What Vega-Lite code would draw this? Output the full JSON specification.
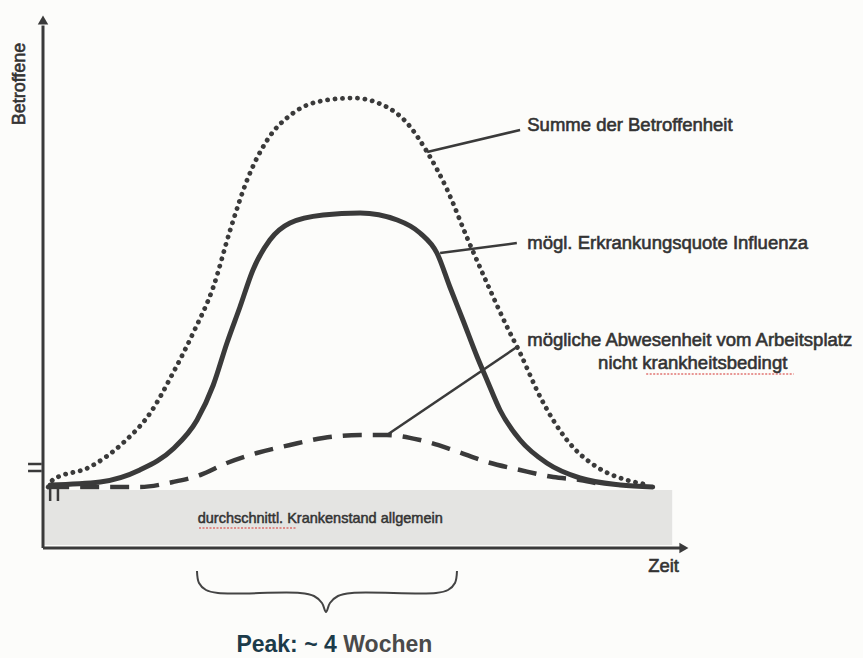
{
  "$schema": "https://vega.github.io/schema/vega-lite/v6.json",
  "width": 863,
  "height": 658,
  "autosize": {"type": "none"},
  "padding": 0,
  "background": "#fcfcfa",
  "config": {"view": {"stroke": null}, "text": {"font": "Liberation Sans"}},
  "datasets": {
    "curves": [
      {"series": "Summe", "x": 0.08, "y": 12.2},
      {"series": "Summe", "x": 0.15, "y": 13.6},
      {"series": "Summe", "x": 0.72, "y": 16.2},
      {"series": "Summe", "x": 1.23, "y": 21.0},
      {"series": "Summe", "x": 1.65, "y": 27.0},
      {"series": "Summe", "x": 2.0, "y": 35.0},
      {"series": "Summe", "x": 2.31, "y": 43.0},
      {"series": "Summe", "x": 2.62, "y": 52.2},
      {"series": "Summe", "x": 2.88, "y": 63.6},
      {"series": "Summe", "x": 3.14, "y": 73.6},
      {"series": "Summe", "x": 3.45, "y": 81.6},
      {"series": "Summe", "x": 3.85, "y": 87.0},
      {"series": "Summe", "x": 4.37, "y": 89.6},
      {"series": "Summe", "x": 4.77, "y": 90.0},
      {"series": "Summe", "x": 5.29, "y": 88.2},
      {"series": "Summe", "x": 5.6, "y": 85.0},
      {"series": "Summe", "x": 5.91, "y": 79.2},
      {"series": "Summe", "x": 6.22, "y": 71.6},
      {"series": "Summe", "x": 6.52, "y": 62.2},
      {"series": "Summe", "x": 6.83, "y": 53.0},
      {"series": "Summe", "x": 7.14, "y": 44.2},
      {"series": "Summe", "x": 7.34, "y": 39.0},
      {"series": "Summe", "x": 7.65, "y": 30.2},
      {"series": "Summe", "x": 8.06, "y": 21.6},
      {"series": "Summe", "x": 8.52, "y": 16.2},
      {"series": "Summe", "x": 8.98, "y": 13.6},
      {"series": "Summe", "x": 9.34, "y": 12.6},
      {"series": "Influenza", "x": 0.11, "y": 12.6},
      {"series": "Influenza", "x": 0.88, "y": 13.2},
      {"series": "Influenza", "x": 1.49, "y": 15.6},
      {"series": "Influenza", "x": 2.0, "y": 19.8},
      {"series": "Influenza", "x": 2.37, "y": 25.6},
      {"series": "Influenza", "x": 2.62, "y": 32.6},
      {"series": "Influenza", "x": 2.83, "y": 41.0},
      {"series": "Influenza", "x": 3.03, "y": 48.2},
      {"series": "Influenza", "x": 3.23, "y": 55.6},
      {"series": "Influenza", "x": 3.49, "y": 61.6},
      {"series": "Influenza", "x": 3.8, "y": 65.0},
      {"series": "Influenza", "x": 4.31, "y": 66.6},
      {"series": "Influenza", "x": 4.88, "y": 67.0},
      {"series": "Influenza", "x": 5.45, "y": 65.6},
      {"series": "Influenza", "x": 5.8, "y": 63.0},
      {"series": "Influenza", "x": 6.06, "y": 59.0},
      {"series": "Influenza", "x": 6.26, "y": 52.2},
      {"series": "Influenza", "x": 6.46, "y": 45.6},
      {"series": "Influenza", "x": 6.68, "y": 38.2},
      {"series": "Influenza", "x": 6.83, "y": 33.6},
      {"series": "Influenza", "x": 7.03, "y": 27.6},
      {"series": "Influenza", "x": 7.34, "y": 21.6},
      {"series": "Influenza", "x": 7.75, "y": 17.0},
      {"series": "Influenza", "x": 8.26, "y": 14.0},
      {"series": "Influenza", "x": 8.88, "y": 12.6},
      {"series": "Influenza", "x": 9.38, "y": 12.2},
      {"series": "Abwesenheit", "x": 0.11, "y": 12.2},
      {"series": "Abwesenheit", "x": 1.49, "y": 12.2},
      {"series": "Abwesenheit", "x": 2.0, "y": 13.2},
      {"series": "Abwesenheit", "x": 2.42, "y": 14.6},
      {"series": "Abwesenheit", "x": 2.83, "y": 17.0},
      {"series": "Abwesenheit", "x": 3.29, "y": 19.0},
      {"series": "Abwesenheit", "x": 3.8, "y": 20.6},
      {"series": "Abwesenheit", "x": 4.31, "y": 22.0},
      {"series": "Abwesenheit", "x": 4.88, "y": 22.6},
      {"series": "Abwesenheit", "x": 5.29, "y": 22.6},
      {"series": "Abwesenheit", "x": 5.8, "y": 21.6},
      {"series": "Abwesenheit", "x": 6.31, "y": 19.6},
      {"series": "Abwesenheit", "x": 6.83, "y": 17.2},
      {"series": "Abwesenheit", "x": 7.34, "y": 15.6},
      {"series": "Abwesenheit", "x": 7.85, "y": 14.2},
      {"series": "Abwesenheit", "x": 8.26, "y": 13.6},
      {"series": "Abwesenheit", "x": 8.57, "y": 12.8}
    ],
    "leaders": [
      {"x": 5.91, "y": 79.2, "x2": 7.34, "y2": 83.6},
      {"x": 6.11, "y": 59.0, "x2": 7.29, "y2": 61.0},
      {"x": 5.29, "y": 22.6, "x2": 7.29, "y2": 40.2}
    ],
    "labels": [
      {"x": 7.45, "y": 84.6, "label": "Summe der Betroffenheit"},
      {"x": 7.45, "y": 61.0, "label": "mögl. Erkrankungsquote Influenza"},
      {"x": 7.45, "y": 41.6, "label": "mögliche Abwesenheit vom Arbeitsplatz"},
      {"x": 8.54, "y": 37.0, "label": "nicht krankheitsbedingt"},
      {"x": 9.31, "y": -3.6, "label": "Zeit"}
    ],
    "brace": [
      {"i": 1, "x": 2.369, "y": -4.6},
      {"i": 2, "x": 2.4, "y": -7.0},
      {"i": 3, "x": 2.508, "y": -8.4},
      {"i": 4, "x": 2.692, "y": -9.0},
      {"i": 5, "x": 3.954, "y": -9.0},
      {"i": 6, "x": 4.169, "y": -9.6},
      {"i": 7, "x": 4.292, "y": -11.0},
      {"i": 8, "x": 4.354, "y": -12.8},
      {"i": 9, "x": 4.415, "y": -11.0},
      {"i": 10, "x": 4.538, "y": -9.6},
      {"i": 11, "x": 4.754, "y": -9.0},
      {"i": 12, "x": 6.046, "y": -9.0},
      {"i": 13, "x": 6.231, "y": -8.4},
      {"i": 14, "x": 6.338, "y": -7.0},
      {"i": 15, "x": 6.369, "y": -4.6}
    ]
  },
  "encoding": {
    "x": {"field": "x", "type": "quantitative", "scale": {"domain": [-0.6615, 12.6154], "nice": false, "zero": false}, "axis": null},
    "y": {"field": "y", "type": "quantitative", "scale": {"domain": [-22, 109.6], "nice": false, "zero": false}, "axis": null}
  },
  "layer": [
    {
      "data": {"values": [{"x": 0, "x2": 9.68, "y": 0.6, "y2": 11.6}]},
      "mark": {"type": "rect", "fill": "#e4e4e2"},
      "encoding": {"x2": {"field": "x2"}, "y2": {"field": "y2"}}
    },
    {
      "data": {"values": [{"x": 2.4, "x2": 3.9, "y": 4.0}, {"x": 9.28, "x2": 11.55, "y": 34.8}]},
      "mark": {"type": "rule", "color": "#d9534f", "strokeWidth": 1.5, "strokeDash": [2, 1.5], "opacity": 0.8},
      "encoding": {"x2": {"field": "x2"}}
    },
    {
      "data": {"values": [{"x": 0, "y": 0, "x2": 0, "y2": 104.5}, {"x": 0, "y": 0, "x2": 9.85, "y2": 0}]},
      "mark": {"type": "rule", "color": "#3a3a3a", "strokeWidth": 3},
      "encoding": {"x2": {"field": "x2"}, "y2": {"field": "y2"}}
    },
    {
      "data": {"values": [{"x": 0, "y": 105.6}]},
      "mark": {"type": "point", "shape": "triangle-up", "filled": true, "size": 110, "color": "#3a3a3a", "opacity": 1}
    },
    {
      "data": {"values": [{"x": 9.86, "y": 0}]},
      "mark": {"type": "point", "shape": "triangle-right", "filled": true, "size": 110, "color": "#3a3a3a", "opacity": 1}
    },
    {
      "data": {"values": [{"x": -0.23, "x2": -0.02, "y": 16.8}, {"x": -0.23, "x2": -0.02, "y": 15.4}]},
      "mark": {"type": "rule", "color": "#3a3a3a", "strokeWidth": 2.5},
      "encoding": {"x2": {"field": "x2"}}
    },
    {
      "data": {"values": [{"x": 0.11, "y": 12.6, "y2": 9.4}, {"x": 0.23, "y": 12.6, "y2": 9.4}]},
      "mark": {"type": "rule", "color": "#3a3a3a", "strokeWidth": 2.5},
      "encoding": {"y2": {"field": "y2"}}
    },
    {
      "data": {"name": "curves"},
      "transform": [{"filter": "datum.series === 'Abwesenheit'"}],
      "mark": {"type": "line", "interpolate": "monotone", "color": "#3a3a3a", "strokeWidth": 4.5, "strokeDash": [19, 11]}
    },
    {
      "data": {"name": "curves"},
      "transform": [{"filter": "datum.series === 'Influenza'"}],
      "mark": {"type": "line", "interpolate": "monotone", "color": "#3a3a3a", "strokeWidth": 5, "strokeCap": "round"}
    },
    {
      "data": {"name": "curves"},
      "transform": [{"filter": "datum.series === 'Summe'"}],
      "mark": {"type": "line", "interpolate": "monotone", "color": "#3a3a3a", "strokeWidth": 4.8, "strokeCap": "round", "strokeDash": [0.1, 7.4]}
    },
    {
      "data": {"name": "leaders"},
      "mark": {"type": "rule", "color": "#3a3a3a", "strokeWidth": 2.5},
      "encoding": {"x2": {"field": "x2"}, "y2": {"field": "y2"}}
    },
    {
      "data": {"name": "labels"},
      "mark": {"type": "text", "align": "left", "baseline": "middle", "fontSize": 18.5, "color": "#333333", "stroke": "#333333", "strokeWidth": 0.6},
      "encoding": {"text": {"field": "label"}}
    },
    {
      "data": {"values": [{"x": 2.38, "y": 5.8, "label": "durchschnittl. Krankenstand allgemein"}]},
      "mark": {"type": "text", "align": "left", "baseline": "middle", "fontSize": 14.5, "color": "#333333", "stroke": "#333333", "strokeWidth": 0.5},
      "encoding": {"text": {"field": "label"}}
    },
    {
      "data": {"values": [{"x": -0.354, "y": 92.8, "label": "Betroffene"}]},
      "mark": {"type": "text", "align": "center", "baseline": "middle", "angle": 270, "fontSize": 18, "color": "#333333", "stroke": "#333333", "strokeWidth": 0.6},
      "encoding": {"text": {"field": "label"}}
    },
    {
      "data": {"name": "brace"},
      "mark": {"type": "line", "interpolate": "catmull-rom", "color": "#444444", "strokeWidth": 2},
      "encoding": {"order": {"field": "i", "type": "quantitative"}}
    },
    {
      "data": {"values": [{"x": 4.52, "y": -20.8, "label": "Peak: ~ 4"}]},
      "mark": {"type": "text", "align": "right", "baseline": "alphabetic", "fontSize": 23, "fontWeight": "bold", "color": "#1c3b4a"},
      "encoding": {"text": {"field": "label"}}
    },
    {
      "data": {"values": [{"x": 4.62, "y": -20.8, "label": "Wochen"}]},
      "mark": {"type": "text", "align": "left", "baseline": "alphabetic", "fontSize": 23, "fontWeight": "bold", "color": "#4a4a4a"},
      "encoding": {"text": {"field": "label"}}
    }
  ]
}
